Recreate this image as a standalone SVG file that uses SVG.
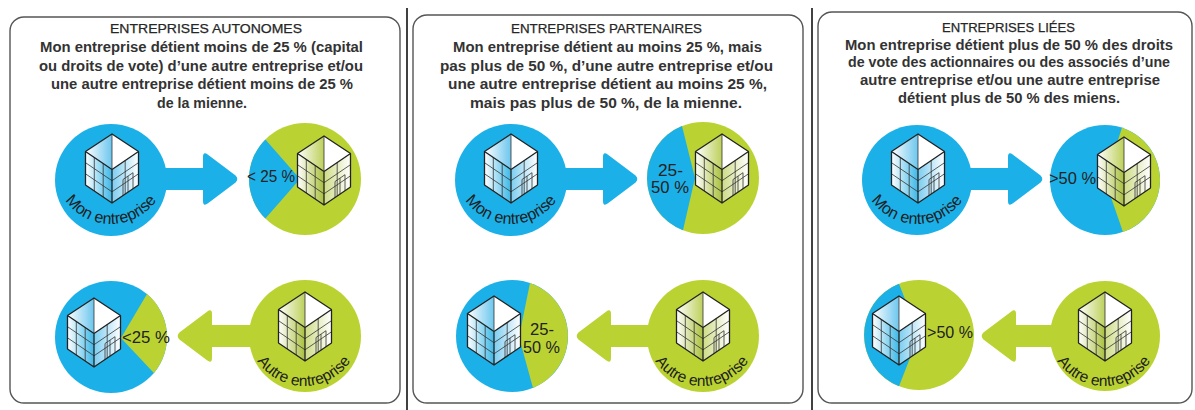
<svg xmlns="http://www.w3.org/2000/svg" xmlns:xlink="http://www.w3.org/1999/xlink" width="1195" height="410" viewBox="0 0 1195 410">
<style>
.panel{fill:#fff;stroke:#555;stroke-width:1.4}
.sep{stroke:#111;stroke-width:1.6}
.title{font-family:"Liberation Sans",Arial,sans-serif;font-size:13.5px;fill:#262626;stroke:#262626;stroke-width:0.25;text-anchor:middle}
.body{font-family:"Liberation Sans",Arial,sans-serif;font-size:14.5px;font-weight:bold;fill:#333;text-anchor:middle}
.blue{fill:#1cb0e8}
.green{fill:#bbd332}
.pct{font-family:"Liberation Sans",Arial,sans-serif;font-size:16.5px;fill:#222}
.arcM{font-family:"Liberation Sans",Arial,sans-serif;font-size:16px;fill:#1d1d1d}
.arcA{font-family:"Liberation Sans",Arial,sans-serif;font-size:15.5px;fill:#1d1d1d}
.grid{fill:none;stroke:#333;stroke-width:0.8}
.door{fill:none;stroke:#333;stroke-width:0.8}
.edge{fill:none;stroke:#222;stroke-width:1.3;stroke-linejoin:round}
</style>
<defs>
<linearGradient id="gLeftB"><stop offset="0" stop-color="#ffffff"/><stop offset="1" stop-color="#3cb8e8"/></linearGradient>
<linearGradient id="gRightB"><stop offset="0" stop-color="#7ccdf0"/><stop offset="1" stop-color="#ffffff"/></linearGradient>
<linearGradient id="gTopB"><stop offset="0" stop-color="#ffffff"/><stop offset="1" stop-color="#6cc6ee"/></linearGradient>
<linearGradient id="gLeftG"><stop offset="0" stop-color="#ffffff"/><stop offset="1" stop-color="#a9c03c"/></linearGradient>
<linearGradient id="gRightG"><stop offset="0" stop-color="#cddc86"/><stop offset="1" stop-color="#ffffff"/></linearGradient>
<linearGradient id="gTopG"><stop offset="0" stop-color="#ffffff"/><stop offset="1" stop-color="#bcd05a"/></linearGradient>
<g id="bldLines">
<path class="grid" d="M-26.5,28.7 L0,46.7 M-26.5,39.8 L0,57.8 M-17.7,23.5 V57 M-8.8,29.5 V63 M0,46.7 L26.5,28.7 M0,57.8 L26.5,39.8 M13.2,26.5 V60"/>
<path class="door" d="M11,61.5 V45.5 L21,38.7 V54.7 M16,58.1 V42.1"/>
<path class="grid" d="M0,0 V35.5"/>
<path class="edge" d="M0,0 L-26.5,17.5 L0,35.5 L26.5,17.5 Z M-26.5,17.5 V51 L0,69 L26.5,51 V17.5 M0,35.5 V69"/>
</g>
<g id="bldB">
<polygon points="0,0 -26.5,17.5 0,35.5" fill="url(#gTopB)"/>
<polygon points="0,0 26.5,17.5 0,35.5" fill="#fff"/>
<polygon points="-26.5,17.5 0,35.5 0,69 -26.5,51" fill="url(#gLeftB)"/>
<polygon points="0,35.5 26.5,17.5 26.5,51 0,69" fill="url(#gRightB)"/>
<use href="#bldLines"/>
</g>
<g id="bldG">
<polygon points="0,0 -26.5,17.5 0,35.5" fill="url(#gTopG)"/>
<polygon points="0,0 26.5,17.5 0,35.5" fill="#fff"/>
<polygon points="-26.5,17.5 0,35.5 0,69 -26.5,51" fill="url(#gLeftG)"/>
<polygon points="0,35.5 26.5,17.5 26.5,51 0,69" fill="url(#gRightG)"/>
<use href="#bldLines"/>
</g>
<path id="tpM1" d="M58.4,187.2 A56,56 0 0 0 163.6,187.2"/>
<path id="tpM2" d="M458.4,187.2 A56,56 0 0 0 563.6,187.2"/>
<path id="tpM3" d="M864.4,187.2 A56,56 0 0 0 969.6,187.2"/>
<path id="tpA1" d="M251.4,349.2 A56,56 0 0 0 356.6,349.2"/>
<path id="tpA2" d="M649.4,349.2 A56,56 0 0 0 754.6,349.2"/>
<path id="tpA3" d="M1051.4,349.2 A56,56 0 0 0 1156.6,349.2"/>
<path id="arrR" d="M160,168 H203 V157 Q203,151 208,154.7 L235.6,175.5 Q239,179 235.6,182.5 L208,203.3 Q203,207 203,201 V190 H160 Z"/>
<path id="arrL" d="M255,325 H212 V314 Q212,308 207,311.7 L179.4,332.5 Q176,336 179.4,339.5 L207,360.3 Q212,364 212,358 V347 H255 Z"/>
</defs>

<rect width="1195" height="410" fill="#fff"/>
<line class="sep" x1="407" y1="8" x2="407" y2="410"/>
<line class="sep" x1="812" y1="8" x2="812" y2="410"/>

<g id="panel-autonomes">
<rect class="panel" x="10" y="17" width="390" height="386" rx="14"/>
<text class="title" x="206" y="33" textLength="192" lengthAdjust="spacingAndGlyphs">ENTREPRISES AUTONOMES</text>
<text class="body" x="201.5" y="52" textLength="323" lengthAdjust="spacingAndGlyphs">Mon entreprise détient moins de 25 % (capital</text>
<text class="body" x="201" y="70.5" textLength="324" lengthAdjust="spacingAndGlyphs">ou droits de vote) d’une autre entreprise et/ou</text>
<text class="body" x="202" y="89" textLength="302" lengthAdjust="spacingAndGlyphs">une autre entreprise détient moins de 25 %</text>
<text class="body" x="202" y="107.5" textLength="90" lengthAdjust="spacingAndGlyphs">de la mienne.</text>
</g>
<g id="panel-partenaires">
<rect class="panel" x="413" y="15" width="390" height="388" rx="14"/>
<text class="title" x="606.5" y="33" textLength="191" lengthAdjust="spacingAndGlyphs">ENTREPRISES PARTENAIRES</text>
<text class="body" x="607.5" y="52" textLength="309" lengthAdjust="spacingAndGlyphs">Mon entreprise détient au moins 25 %, mais</text>
<text class="body" x="606.5" y="70.5" textLength="333" lengthAdjust="spacingAndGlyphs">pas plus de 50 %, d’une autre entreprise et/ou</text>
<text class="body" x="607.5" y="89" textLength="319" lengthAdjust="spacingAndGlyphs">une autre entreprise détient au moins 25 %,</text>
<text class="body" x="606" y="107.5" textLength="272" lengthAdjust="spacingAndGlyphs">mais pas plus de 50 %, de la mienne.</text>
</g>
<g id="panel-liees">
<rect class="panel" x="818" y="12" width="374" height="391" rx="14"/>
<text class="title" x="1008.5" y="31.5" textLength="133" lengthAdjust="spacingAndGlyphs">ENTREPRISES LIÉES</text>
<text class="body" x="1009" y="49.5" textLength="328" lengthAdjust="spacingAndGlyphs">Mon entreprise détient plus de 50 % des droits</text>
<text class="body" x="1009" y="67.3" textLength="322" lengthAdjust="spacingAndGlyphs">de vote des actionnaires ou des associés d’une</text>
<text class="body" x="1010" y="85" textLength="300" lengthAdjust="spacingAndGlyphs">autre entreprise et/ou une autre entreprise</text>
<text class="body" x="1009" y="102.7" textLength="222" lengthAdjust="spacingAndGlyphs">détient plus de 50 % des miens.</text>
</g>

<g id="connectors">
<use href="#arrR" class="blue"/>
<use href="#arrL" class="green"/>
<use href="#arrR" class="blue" x="400"/>
<use href="#arrL" class="green" x="399"/>
<use href="#arrR" class="blue" x="805"/>
<use href="#arrL" class="green" x="804"/>
</g>

<g id="p1-mon-entreprise">
<circle class="blue" cx="111" cy="180" r="56"/>
<use href="#bldB" x="112" y="134"/>
<text class="arcM"><textPath href="#tpM1" startOffset="50%" text-anchor="middle">Mon entreprise</textPath></text>
</g>
<g id="p1-cible">
<circle class="green" cx="305" cy="179" r="56"/>
<path class="blue" d="M300,179 L265.4,218.6 A56,56 0 0 1 265.4,139.4 Z"/>
<use href="#bldG" x="324" y="136"/>
<text class="pct" x="247" y="182" textLength="48" lengthAdjust="spacingAndGlyphs">&lt; 25 %</text>
</g>
<g id="p1-mienne">
<circle class="blue" cx="111" cy="337" r="56"/>
<path class="green" d="M121,338 L147,294.1 A56,56 0 0 1 153.9,373 Z"/>
<use href="#bldB" x="94" y="298"/>
<text class="pct" x="122" y="343" textLength="48" lengthAdjust="spacingAndGlyphs">&lt;25 %</text>
</g>
<g id="p1-autre-entreprise">
<circle class="green" cx="305" cy="336" r="56"/>
<use href="#bldG" x="305" y="292"/>
<text class="arcA"><textPath href="#tpA1" startOffset="50%" text-anchor="middle">Autre entreprise</textPath></text>
</g>

<g id="p2-mon-entreprise">
<circle class="blue" cx="511" cy="180" r="56"/>
<use href="#bldB" x="511" y="134"/>
<text class="arcM"><textPath href="#tpM2" startOffset="50%" text-anchor="middle">Mon entreprise</textPath></text>
</g>
<g id="p2-cible">
<circle class="green" cx="703" cy="178" r="56"/>
<path class="blue" d="M695,178 L683,230.3 A56,56 0 0 1 682,126.1 Z"/>
<use href="#bldG" x="722" y="134"/>
<text class="pct" x="658" y="176" textLength="25" lengthAdjust="spacingAndGlyphs">25-</text>
<text class="pct" x="651" y="193" textLength="38" lengthAdjust="spacingAndGlyphs">50 %</text>
</g>
<g id="p2-mienne">
<circle class="blue" cx="512" cy="336" r="56"/>
<path class="green" d="M519,337 L530,283 A56,56 0 0 1 533,387.9 Z"/>
<use href="#bldB" x="494" y="296"/>
<text class="pct" x="530" y="335" textLength="24" lengthAdjust="spacingAndGlyphs">25-</text>
<text class="pct" x="523" y="353" textLength="37" lengthAdjust="spacingAndGlyphs">50 %</text>
</g>
<g id="p2-autre-entreprise">
<circle class="green" cx="703" cy="336" r="56"/>
<use href="#bldG" x="703" y="292"/>
<text class="arcA"><textPath href="#tpA2" startOffset="50%" text-anchor="middle">Autre entreprise</textPath></text>
</g>

<g id="p3-mon-entreprise">
<circle class="blue" cx="917" cy="180" r="55"/>
<use href="#bldB" x="918" y="134"/>
<text class="arcM"><textPath href="#tpM3" startOffset="50%" text-anchor="middle">Mon entreprise</textPath></text>
</g>
<g id="p3-cible">
<circle class="blue" cx="1105" cy="180" r="55"/>
<path class="green" d="M1105,180 L1122,127.7 A55,55 0 0 1 1123,232 Z"/>
<use href="#bldG" x="1124" y="137"/>
<text class="pct" x="1049" y="184" textLength="47" lengthAdjust="spacingAndGlyphs">&gt;50 %</text>
</g>
<g id="p3-mienne">
<circle class="green" cx="919" cy="335" r="55"/>
<path class="blue" d="M919,335 L899,386.2 A55,55 0 0 1 899,283.8 Z"/>
<use href="#bldB" x="899" y="296"/>
<text class="pct" x="927" y="338" textLength="46" lengthAdjust="spacingAndGlyphs">&gt;50 %</text>
</g>
<g id="p3-autre-entreprise">
<circle class="green" cx="1105" cy="336" r="55"/>
<use href="#bldG" x="1105" y="292"/>
<text class="arcA"><textPath href="#tpA3" startOffset="50%" text-anchor="middle">Autre entreprise</textPath></text>
</g>
</svg>
